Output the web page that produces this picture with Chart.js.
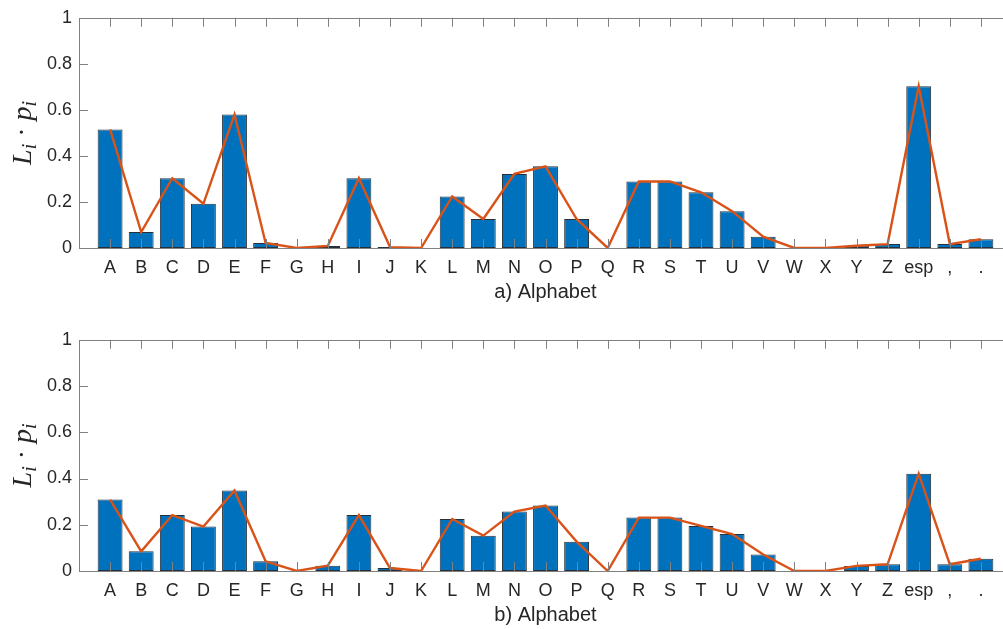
<!DOCTYPE html>
<html>
<head>
<meta charset="utf-8">
<script src="https://cdn.jsdelivr.net/npm/chart.js@4/dist/chart.umd.min.js"></script>
<style>
html,body{margin:0;padding:0;overflow:hidden;background:#fff;width:1003px;height:629px;}
.wrap{position:absolute;left:0;width:1020px;}
</style>
</head>
<body>
<div class="wrap" style="top:0;height:308px"><canvas id="c1"></canvas></div>
<div class="wrap" style="top:322px;height:309px"><canvas id="c2"></canvas></div>
<script>
const categories = ['A','B','C','D','E','F','G','H','I','J','K','L','M','N','O','P','Q','R','S','T','U','V','W','X','Y','Z','esp',',','.'];

const barsA = [0.515,0.069,0.303,0.192,0.580,0.022,0.000,0.009,0.303,0.004,0.000,0.224,0.126,0.322,0.355,0.126,0.000,0.289,0.289,0.242,0.160,0.049,0.000,0.000,0.010,0.017,0.703,0.017,0.038];
const lineA = [0.515,0.069,0.303,0.192,0.580,0.022,0.000,0.009,0.303,0.004,0.000,0.224,0.126,0.322,0.355,0.126,0.000,0.289,0.289,0.242,0.160,0.049,0.000,0.000,0.010,0.017,0.703,0.017,0.038];

const barsB = [0.309,0.085,0.242,0.192,0.348,0.042,0.000,0.023,0.242,0.013,0.000,0.225,0.153,0.257,0.283,0.127,0.000,0.231,0.231,0.195,0.160,0.071,0.000,0.000,0.022,0.029,0.421,0.029,0.053];
const lineB = [0.309,0.085,0.242,0.192,0.348,0.042,0.000,0.023,0.242,0.013,0.000,0.225,0.153,0.257,0.283,0.127,0.000,0.231,0.231,0.195,0.160,0.071,0.000,0.000,0.022,0.029,0.421,0.029,0.053];

const yTicks = [0,0.2,0.4,0.6,0.8,1];
const xTitles = ['a) Alphabet','b) Alphabet'];

const TEXT = '#262626';
const AXIS = '#808080';
const TICKLEN = 9;

const axesBox = {
  id:'axesBox',
  afterDatasetsDraw(chart){
    const {ctx, chartArea:a, scales:{x,y}} = chart;
    ctx.save();
    ctx.strokeStyle = AXIS; ctx.lineWidth = 1;
    ctx.beginPath();
    ctx.rect(Math.round(a.left)+0.5, Math.round(a.top)+0.5, Math.round(a.right-a.left), Math.round(a.bottom-a.top));
    x.ticks.forEach(t=>{
      const px = Math.round(x.getPixelForValue(t.value))+0.5;
      ctx.moveTo(px, a.bottom); ctx.lineTo(px, a.bottom-TICKLEN);
      ctx.moveTo(px, a.top); ctx.lineTo(px, a.top+TICKLEN);
    });
    y.ticks.forEach(t=>{
      const py = Math.round(y.getPixelForValue(t.value))+0.5;
      ctx.moveTo(a.left, py); ctx.lineTo(a.left+TICKLEN, py);
      ctx.moveTo(a.right, py); ctx.lineTo(a.right-TICKLEN, py);
    });
    ctx.stroke();
    ctx.restore();
  }
};

const yLabel = {
  id:'yLabel',
  afterDraw(chart){
    const {ctx, chartArea:a} = chart;
    const parts = [
      {t:'L', f:'italic 28px "Liberation Serif"', dy:0},
      {t:'i', f:'italic 20px "Liberation Serif"', dy:5},
      {t:' \u00B7 ', f:'28px "Liberation Serif"', dy:0},
      {t:'p', f:'italic 28px "Liberation Serif"', dy:0},
      {t:'i', f:'italic 20px "Liberation Serif"', dy:5}
    ];
    ctx.save();
    let total = 0;
    parts.forEach(p=>{ctx.font=p.f; p.w=ctx.measureText(p.t).width; total+=p.w;});
    ctx.translate(31, (a.top+a.bottom)/2);
    ctx.rotate(-Math.PI/2);
    ctx.fillStyle = TEXT;
    ctx.textBaseline = 'alphabetic';
    ctx.textAlign = 'left';
    let xx = -total/2;
    parts.forEach(p=>{ctx.font=p.f; ctx.fillText(p.t, xx, p.dy); xx+=p.w;});
    ctx.restore();
  }
};

function makeChart(id, bars, line, title){
  const barData = bars.map((v,i)=>({x:i+1, y:v}));
  const lineData = line.map((v,i)=>({x:i+1, y:v}));
  return new Chart(document.getElementById(id), {
    type:'bar',
    data:{
      datasets:[
        {type:'line', data:lineData, borderColor:'#D95319', backgroundColor:'#D95319', borderWidth:2.4, pointRadius:0, tension:0, order:0},
        {type:'bar', data:barData, backgroundColor:'#0072BD', borderColor:'rgba(15,25,35,0.9)', borderWidth:1, borderSkipped:false, barPercentage:0.8, categoryPercentage:1, order:1}
      ]
    },
    options:{
      responsive:true, maintainAspectRatio:false, animation:false, devicePixelRatio:1,
      layout:{padding:{top:17, left:0, right:8, bottom:0}},
      plugins:{legend:{display:false}, tooltip:{enabled:false}},
      scales:{
        x:{
          type:'linear', min:0, max:30, offset:false,
          afterBuildTicks:s=>{ s.ticks = categories.map((c,i)=>({value:i+1})); },
          afterFit:s=>{ s.height = 60; },
          grid:{display:false, drawTicks:false},
          border:{display:false},
          ticks:{autoSkip:false, maxRotation:0, minRotation:0, padding:9, color:TEXT,
                 font:{family:'"Liberation Sans", Arial, sans-serif', size:18},
                 callback:v=>categories[v-1]},
          title:{display:true, text:title, color:TEXT, padding:{top:4,bottom:4},
                 font:{family:'"Liberation Sans", Arial, sans-serif', size:20}}
        },
        y:{
          min:0, max:1,
          afterBuildTicks:s=>{ s.ticks = yTicks.map(v=>({value:v})); },
          afterFit:s=>{ s.width = 79; },
          grid:{display:false, drawTicks:false},
          border:{display:false},
          ticks:{padding:7, color:TEXT, font:{family:'"Liberation Sans", Arial, sans-serif', size:18},
                 callback:v=>String(Number(v.toFixed(1)))}
        }
      }
    },
    plugins:[axesBox, yLabel]
  });
}

makeChart('c1', barsA, lineA, xTitles[0]);
makeChart('c2', barsB, lineB, xTitles[1]);
</script>
</body>
</html>
